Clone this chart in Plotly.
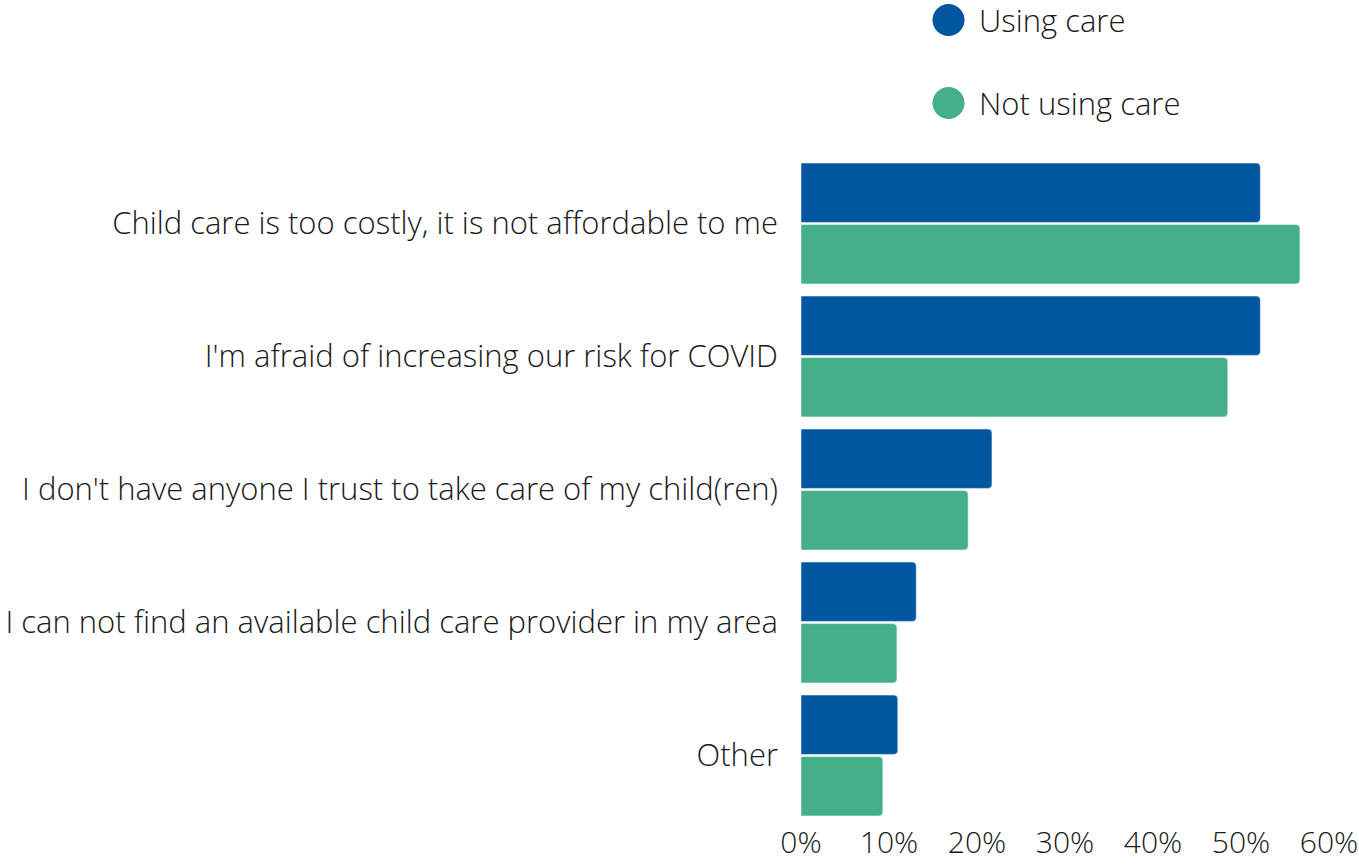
import plotly.graph_objects as go

categories = [
    "Child care is too costly, it is not affordable to me",
    "I'm afraid of increasing our risk for COVID",
    "I don't have anyone I trust to take care of my child(ren)",
    "I can not find an available child care provider in my area",
    "Other",
]
using_care = [52.2, 52.2, 21.7, 13.1, 11.0]
not_using_care = [56.7, 48.5, 19.0, 10.9, 9.3]
series_names = ["Using care", "Not using care"]
colors = ["#0057A0", "#45AF8A"]
x_ticks = [0, 10, 20, 30, 40, 50, 60]
x_tick_labels = ["0%", "10%", "20%", "30%", "40%", "50%", "60%"]

FONT = dict(family="Open Sans", weight=300, color="#1a1a1a", size=31)
XTICK_FONT = dict(family="Open Sans", weight=300, color="#1a1a1a", size=30)

fig = go.Figure()
for name, vals, col in zip(series_names, [using_care, not_using_care], colors):
    fig.add_trace(go.Bar(
        y=categories, x=vals, orientation="h", name=name,
        marker=dict(color=col, line=dict(color="white", width=0.5)),
        showlegend=False, hoverinfo="x+name",
    ))

W, H = 1359, 865
L, R, T, B = 801, 30, 157, 43
pw, ph = W - L - R, H - T - B

def px_to_paper_x(px):
    return (px - L) / pw

def px_to_paper_y(py):
    return (H - B - py) / ph

shapes = []
annotations = []
for name, col, cy in zip(series_names, colors, [20, 103]):
    shapes.append(dict(
        type="circle", xref="paper", yref="paper",
        xsizemode="pixel", ysizemode="pixel",
        xanchor=px_to_paper_x(948.5), yanchor=px_to_paper_y(cy),
        x0=-16, x1=16, y0=-16, y1=16,
        fillcolor=col, line=dict(width=0),
    ))
    annotations.append(dict(
        text=name, xref="paper", yref="paper",
        x=px_to_paper_x(977), y=px_to_paper_y(cy),
        xanchor="left", yanchor="middle", showarrow=False,
        font=FONT,
    ))

fig.update_layout(
    template="none",
    width=W, height=H,
    margin=dict(l=L, r=R, t=T, b=B, pad=0, autoexpand=False),
    barmode="group", bargap=0.075, bargroupgap=0.035,
    barcornerradius=4,
    plot_bgcolor="white", paper_bgcolor="white",
    font=FONT,
    shapes=shapes, annotations=annotations,
    showlegend=False,
)
fig.update_xaxes(
    range=[0, 60], tickvals=x_ticks, ticktext=x_tick_labels,
    showgrid=False, zeroline=False, showline=False, ticks="",
    tickfont=XTICK_FONT, fixedrange=True, ticklabeloverflow="allow",
    automargin=False, ticklabelstandoff=0,
)
fig.update_yaxes(
    autorange="reversed", showgrid=False, zeroline=False, showline=False,
    ticks="", tickfont=FONT, ticklabelstandoff=22, automargin=False,
)
fig.write_html("out.html")
